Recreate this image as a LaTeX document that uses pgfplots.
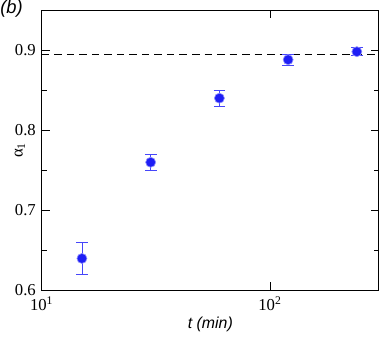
\documentclass[border=0pt]{standalone}
\usepackage{fontspec}
\setmainfont{Liberation Serif}
\newfontfamily\sansf{Liberation Sans}
\usepackage{pgfplots}
\pgfplotsset{compat=1.18}
\definecolor{ptblue}{RGB}{30,30,245}
\definecolor{barblue}{RGB}{70,70,250}
\begin{document}
\begin{tikzpicture}
\begin{axis}[
  xmode=log, log basis x=10,
  scale only axis, width=202pt, height=168pt,
  xmin=10, xmax=300, ymin=0.6, ymax=0.95,
  xtick={10,100}, xticklabels={10\textsuperscript{1},10\textsuperscript{2}},
  ytick={0.6,0.7,0.8,0.9}, minor ytick={0.65,0.75,0.85},
  yticklabel style={/pgf/number format/fixed,/pgf/number format/precision=1},
  /pgf/number format/assume math mode=true,
  tick label style={font=\fontsize{10}{12}\selectfont},
  major tick length=5pt, minor tick length=3pt,
  tick style={black, line width=0.5pt},
  axis line style={line width=0.6pt},
  xlabel={\sansf\itshape t (min)}, xlabel style={font=\fontsize{9.5}{11}\selectfont, yshift=3pt},
  ylabel={α\textsubscript{1}}, ylabel style={font=\fontsize{10}{12}\selectfont,
    at={(axis description cs:-0.065,0.5)}, anchor=center},
  clip=false,
]
\addplot[black, dashed, line width=0.7pt, dash pattern=on 4.5pt off 3pt] coordinates {(10,0.894) (300,0.894)};
\addplot[only marks, mark=*, mark size=3pt, mark options={fill=ptblue, draw=barblue!60, line width=0.4pt},
  error bars/.cd, y dir=both, y explicit,
  error bar style={barblue, line width=0.5pt},
  error mark options={rotate=90, mark size=3.5pt, barblue, line width=0.5pt}]
  coordinates {
  (15,0.640) +- (0,0.020)
  (30,0.760) +- (0,0.010)
  (60,0.840) +- (0,0.010)
  (120,0.888) +- (0,0.007)
  (240,0.898) +- (0,0.005)
  };
\end{axis}
\node[anchor=north west, font=\sansf\itshape\fontsize{11}{13}\selectfont, inner sep=0pt] at (-25pt,174pt) {(b)};
\path[use as bounding box] (-25pt,-24pt) rectangle (203.8pt,174pt);
\end{tikzpicture}
\end{document}
